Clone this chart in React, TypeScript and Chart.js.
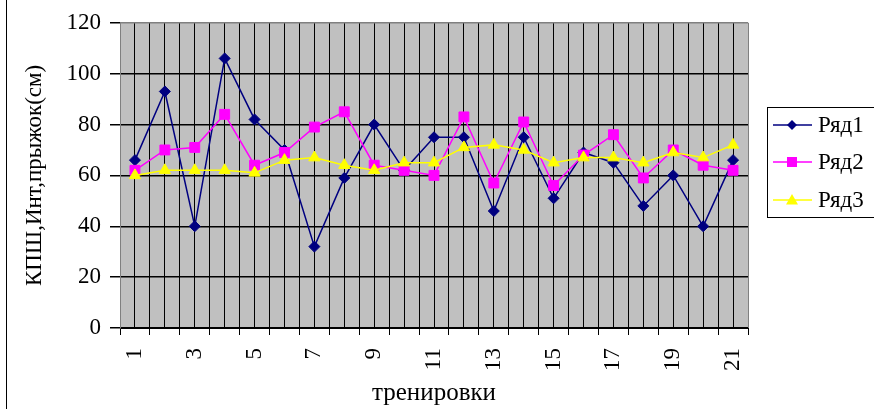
import React, { useEffect, useRef } from "react";
import { Chart, registerables } from "chart.js";

Chart.register(...registerables);

const categories = [1, 2, 3, 4, 5, 6, 7, 8, 9, 10, 11, 12, 13, 14, 15, 16, 17, 18, 19, 20, 21];
const series1 = [66, 93, 40, 106, 82, 70, 32, 59, 80, 62, 75, 75, 46, 75, 51, 69, 65, 48, 60, 40, 66];
const series2 = [62, 70, 71, 84, 64, 69, 79, 85, 64, 62, 60, 83, 57, 81, 56, 68, 76, 59, 70, 64, 62];
const series3 = [60, 62, 62, 62, 61, 66, 67, 64, 62, 65, 65, 71, 72, 70, 65, 67, 67, 65, 69, 67, 72];
const seriesNames = ["Ряд1", "Ряд2", "Ряд3"];
const seriesColors = ["#000080", "#FF00FF", "#FFFF00"];
const yMin = 0;
const yMax = 120;
const yStep = 20;
const yTitle = "КПШ,Инт,прыжок(см)";
const xTitle = "тренировки";

const FONT = "'Liberation Serif', 'Times New Roman', serif";

const W = 874;
const H = 409;
const PLOT_LEFT = 120;
const PLOT_RIGHT = 748;
const PLOT_TOP = 18;
const PLOT_BOTTOM = 328;

const bgPlugin = {
  id: "bgPlugin",
  beforeDraw(chart: any) {
    const { ctx, chartArea } = chart;
    ctx.save();
    ctx.fillStyle = "#ffffff";
    ctx.fillRect(0, 0, chart.width, chart.height);
    ctx.fillStyle = "#C0C0C0";
    ctx.fillRect(chartArea.left, chartArea.top, chartArea.right - chartArea.left, chartArea.bottom - chartArea.top);
    ctx.restore();
  },
  afterDraw(chart: any) {
    const { ctx } = chart;
    ctx.save();
    ctx.strokeStyle = "#000";
    ctx.lineWidth = 1;
    ctx.beginPath();
    ctx.moveTo(6.5, 0);
    ctx.lineTo(6.5, chart.height);
    ctx.stroke();

    // legend
    const bx = 767.5;
    const by = 107.5;
    const bw = 130;
    const bh = 110;
    ctx.strokeStyle = "#000";
    ctx.lineWidth = 1;
    ctx.strokeRect(bx, by, bw, bh);
    const rows = [125, 162, 200];
    chart.data.datasets.forEach((ds: any, i: number) => {
      const y = rows[i];
      ctx.strokeStyle = ds.borderColor;
      ctx.lineWidth = 1.5;
      ctx.beginPath();
      ctx.moveTo(773, y);
      ctx.lineTo(812, y);
      ctx.stroke();
      ctx.fillStyle = ds.pointBackgroundColor;
      ctx.beginPath();
      const cx = 792;
      if (ds.pointStyle === "rectRot") {
        const r = 5;
        ctx.moveTo(cx, y - r);
        ctx.lineTo(cx + r, y);
        ctx.lineTo(cx, y + r);
        ctx.lineTo(cx - r, y);
        ctx.closePath();
      } else if (ds.pointStyle === "rect") {
        ctx.rect(cx - 5, y - 5, 10, 10);
      } else {
        ctx.moveTo(cx, y - 6);
        ctx.lineTo(cx + 6, y + 4.5);
        ctx.lineTo(cx - 6, y + 4.5);
        ctx.closePath();
      }
      ctx.fill();
      ctx.fillStyle = "#000";
      ctx.font = `23px ${FONT}`;
      ctx.textBaseline = "middle";
      ctx.textAlign = "left";
      ctx.fillText(ds.label, 818, y + 1);
    });
    ctx.restore();
  },
};

export default function App() {
  const ref = useRef<HTMLCanvasElement | null>(null);

  useEffect(() => {
    if (!ref.current) return;
    const makeData = (arr: number[]) => categories.map((c, i) => ({ x: c, y: arr[i] }));
    const chart = new Chart(ref.current, {
      type: "line",
      data: {
        datasets: [
          {
            label: seriesNames[0],
            data: makeData(series1),
            borderColor: seriesColors[0],
            backgroundColor: seriesColors[0],
            pointBackgroundColor: seriesColors[0],
            pointBorderColor: seriesColors[0],
            pointStyle: "rectRot",
            pointRadius: 5.5,
            pointBorderWidth: 1,
            borderWidth: 1.5,
            tension: 0,
            order: 3,
          },
          {
            label: seriesNames[1],
            data: makeData(series2),
            borderColor: seriesColors[1],
            backgroundColor: seriesColors[1],
            pointBackgroundColor: seriesColors[1],
            pointBorderColor: seriesColors[1],
            pointStyle: "rect",
            pointRadius: 7,
            pointBorderWidth: 1,
            borderWidth: 1.5,
            tension: 0,
            order: 2,
          },
          {
            label: seriesNames[2],
            data: makeData(series3),
            borderColor: seriesColors[2],
            backgroundColor: seriesColors[2],
            pointBackgroundColor: seriesColors[2],
            pointBorderColor: seriesColors[2],
            pointStyle: "triangle",
            pointRadius: 6.5,
            pointBorderWidth: 1,
            borderWidth: 1.5,
            tension: 0,
            order: 1,
          },
        ],
      },
      options: {
        animation: false,
        responsive: false,
        maintainAspectRatio: false,
        layout: {
          padding: { left: 0, right: W - PLOT_RIGHT, top: PLOT_TOP, bottom: 0 },
        },
        plugins: {
          legend: { display: false },
          tooltip: { enabled: false },
        },
        scales: {
          x: {
            type: "linear",
            min: 0.5,
            max: categories.length + 0.5,
            afterBuildTicks(scale: any) {
              const t: any[] = [];
              for (let v = 0.5; v <= categories.length + 0.5 + 1e-9; v += 0.5) t.push({ value: v });
              scale.ticks = t;
            },
            afterFit(scale: any) {
              scale.height = H - PLOT_BOTTOM;
            },
            ticks: {
              autoSkip: false,
              minRotation: 90,
              maxRotation: 90,
              padding: 13,
              color: "#000",
              font: { family: FONT, size: 23 },
              callback(value: any) {
                const v = Number(value);
                if (Number.isInteger(v) && categories.indexOf(v) >= 0 && (v - 1) % 2 === 0) return String(v);
                return "";
              },
            },
            grid: {
              color(ctx: any) {
                const v = ctx.tick ? ctx.tick.value : 0;
                if (v === 0.5 || v === categories.length + 0.5) return "#808080";
                return "#000";
              },
              lineWidth: 1,
              drawTicks: true,
              tickLength: 7,
              tickColor(ctx: any) {
                const v = ctx.tick ? ctx.tick.value : 0;
                return Number.isInteger(v) ? "rgba(0,0,0,0)" : "#000";
              },
            },
            border: { display: true, color: "#000", width: 1 },
            title: {
              display: true,
              text: xTitle,
              color: "#000",
              font: { family: FONT, size: 25 },
              padding: { top: 0, bottom: 1 },
              align: "center",
            },
          },
          y: {
            min: yMin,
            max: yMax,
            ticks: {
              stepSize: yStep,
              padding: 9,
              color: "#000",
              font: { family: FONT, size: 23 },
            },
            afterFit(scale: any) {
              scale.width = PLOT_LEFT;
            },
            grid: {
              color(ctx: any) {
                const v = ctx.tick ? ctx.tick.value : 0;
                if (v === yMax) return "#808080";
                return "#000";
              },
              lineWidth: 1.5,
              tickLength: 10,
              tickColor: "#000",
            },
            border: { display: true, color: "#808080", width: 1 },
            title: {
              display: true,
              text: yTitle,
              color: "#000",
              font: { family: FONT, size: 23 },
              padding: { top: 21, bottom: 0 },
            },
          },
        },
      },
      plugins: [bgPlugin],
    });
    return () => chart.destroy();
  }, []);

  return (
    <div style={{ position: "fixed", left: 0, top: 0, width: W, height: H, background: "#fff" }}>
      <canvas ref={ref} width={W} height={H} style={{ width: W, height: H, display: "block" }} />
    </div>
  );
}
